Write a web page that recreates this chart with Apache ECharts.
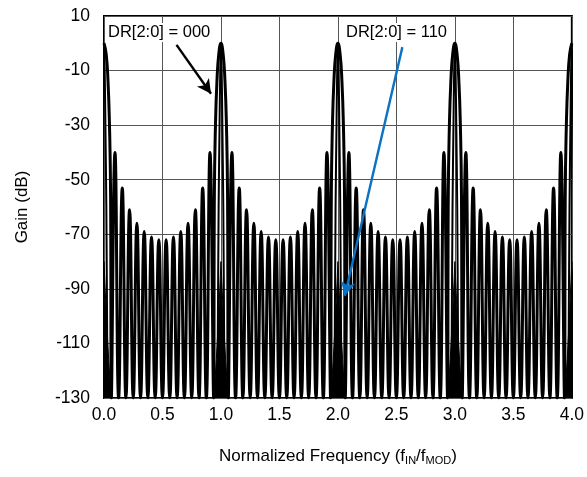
<!DOCTYPE html>
<html>
<head>
<meta charset="utf-8">
<script src="https://cdn.jsdelivr.net/npm/echarts@6/dist/echarts.min.js"></script>
<style>
  html, body { margin: 0; padding: 0; background: #fff; }
  #chart { width: 587px; height: 477px; }
</style>
</head>
<body>
<div id="chart"></div>
<script>
// DR[2:0] = 000 : sidelobe peaks (dB) between nulls spaced 1/16, one period
const sidelobePeaks = [-40, -53, -61, -66, -69, -71, -72, -72, -71, -69, -66, -61, -53, -40];
// main lobe half: offset from integer (in null spacings) and gain (dB)
const mainLobeSteps = [0, 0.3, 0.55, 0.75, 0.9, 1];
const mainLobeGain = [0, -4, -14, -30, -55, -130];
// DR[2:0] = 110 : dense lobes only show as a spike round each integer
const spikeOffsets = [0.06, 0.04, 0.025, 0.014, 0.006, 0];
const spikeGain = [-130, -116, -104, -94, -86, -80];
const innerOffsets = [0.03, 0.02, 0.012, 0.006, 0];
const innerGain = [-130, -60, -30, -10, 0];
const centers = [0, 1, 2, 3, 4];
const yTicks = [-130, -110, -90, -70, -50, -30, -10, 10];
const nullDb = -130;

const step = 1 / 16;
const dr000 = [];
for (let p = 0; p < 4; p++) {
  mainLobeSteps.forEach((s, j) => {
    if (p > 0 && j === 0) return;
    dr000.push([p + s * step, mainLobeGain[j]]);
  });
  sidelobePeaks.forEach((g, k) => {
    dr000.push([p + (k + 1.5) * step, g]);
    dr000.push([p + (k + 2) * step, nullDb]);
  });
  for (let j = mainLobeSteps.length - 2; j >= 0; j--) {
    dr000.push([p + 1 - mainLobeSteps[j] * step, mainLobeGain[j]]);
  }
}

function mirrored(offsets, gains) {
  const out = [];
  centers.forEach((c, n) => {
    if (n > 0) out.push([c - 0.5, null]);
    offsets.forEach((o, j) => out.push([c - o, gains[j]]));
    for (let j = offsets.length - 2; j >= 0; j--) out.push([c + offsets[j], gains[j]]);
  });
  return out;
}
const dr110Spike = mirrored(spikeOffsets, spikeGain);
const dr110Inner = mirrored(innerOffsets, innerGain);

const chart = echarts.init(document.getElementById('chart'));
const font = 'Liberation Sans, Arial, sans-serif';

chart.setOption({
  animation: false,
  grid: { left: 104, right: 11, top: 16, bottom: 79, show: true, borderColor: '#000', borderWidth: 2 },
  xAxis: {
    type: 'value', min: 0, max: 4, interval: 0.5,
    name: 'Normalized Frequency (f{s|IN}/f{s|MOD})',
    nameLocation: 'middle', nameGap: 48,
    nameTextStyle: {
      color: '#000', fontSize: 17, fontFamily: font,
      rich: { s: { fontSize: 11, fontFamily: font, color: '#000', padding: [9, 0, 0, 0] } }
    },
    axisLine: { show: false }, axisTick: { show: false },
    axisLabel: { color: '#000', fontSize: 17.5, fontFamily: font, margin: 8, formatter: v => v.toFixed(1) },
    splitLine: { show: true, lineStyle: { color: '#555', width: 1 } }
  },
  yAxis: {
    type: 'value', min: yTicks[0], max: yTicks[yTicks.length - 1], interval: 20,
    name: 'Gain (dB)', nameLocation: 'middle', nameGap: 73,
    nameTextStyle: { color: '#000', fontSize: 17, fontFamily: font },
    axisLine: { show: false }, axisTick: { show: false },
    axisLabel: { color: '#000', fontSize: 17.5, fontFamily: font, margin: 14 },
    splitLine: { show: true, lineStyle: { color: '#555', width: 1 } }
  },
  series: [
    {
      name: 'DR110 spike', type: 'line', data: dr110Spike, symbol: 'none',
      connectNulls: false, z: 2,
      lineStyle: { color: '#000', width: 1 },
      areaStyle: { color: '#000', opacity: 1, origin: 'start' }
    },
    {
      name: 'DR110', type: 'line', data: dr110Inner, symbol: 'none', smooth: 0.3,
      connectNulls: false, z: 3,
      lineStyle: { color: '#000', width: 2 }
    },
    {
      name: 'DR000', type: 'line', data: dr000, symbol: 'none', smooth: 0.5, z: 4,
      lineStyle: { color: '#000', width: 3 },
      markLine: {
        silent: true, symbol: ['none', 'arrow'], symbolSize: [11, 14],
        label: { show: false },
        data: [
          [{ coord: [0.62, -0.6], lineStyle: { color: '#000', width: 2.4, type: 'solid' } },
           { coord: [0.915, -18.5] }],
          [{ coord: [2.551, -1.4], lineStyle: { color: '#0b72c4', width: 2.4, type: 'solid' } },
           { coord: [2.059, -92.5] }]
        ]
      }
    }
  ],
  graphic: [
    { type: 'text', left: 106, top: 23, z: 100,
      style: { text: 'DR[2:0] = 000', fill: '#000', font: '16.5px ' + font, backgroundColor: '#fff', padding: [1, 2] } },
    { type: 'text', left: 344, top: 23, z: 100,
      style: { text: 'DR[2:0] = 110', fill: '#000', font: '16.5px ' + font, backgroundColor: '#fff', padding: [1, 2] } }
  ]
});
</script>
</body>
</html>
